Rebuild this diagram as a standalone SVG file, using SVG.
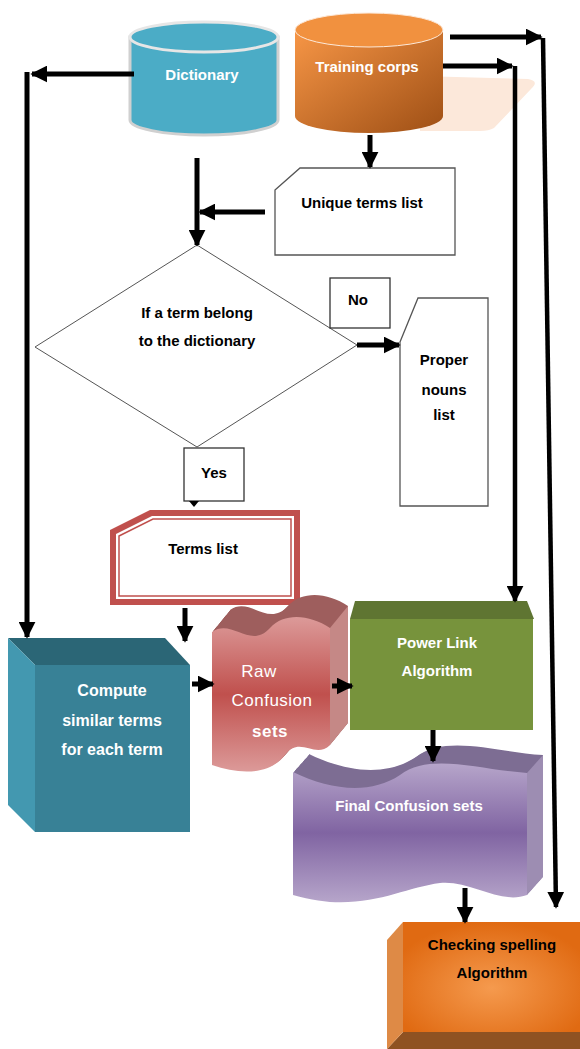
<svg xmlns="http://www.w3.org/2000/svg" xmlns:xlink="http://www.w3.org/1999/xlink" width="580" height="1049" viewBox="0 0 580 1049">
<style>
.t{font-family:"Liberation Sans",Arial,sans-serif;font-weight:bold;font-size:15px;text-anchor:middle;fill:#000}
.w{fill:#fff}
.c{fill:none;stroke:#000;stroke-width:5}
.thin{fill:#fff;stroke:#555;stroke-width:1.3}
</style>
<defs>
<marker id="ah" viewBox="0 0 10 10" refX="9" refY="5" markerWidth="17" markerHeight="17" markerUnits="userSpaceOnUse" orient="auto">
<path d="M0,0 L10,5 L0,10 z" fill="#000"/>
</marker>
<linearGradient id="gTrain" x1="0" y1="0" x2="1" y2="1">
<stop offset="0" stop-color="#f79646"/><stop offset="1" stop-color="#9e4f15"/>
</linearGradient>
<linearGradient id="gRaw" x1="0" y1="0" x2="0" y2="1">
<stop offset="0" stop-color="#dc9a99"/><stop offset="0.5" stop-color="#c0504d"/><stop offset="1" stop-color="#dc9a99"/>
</linearGradient>
<linearGradient id="gFin" x1="0" y1="0" x2="0" y2="1">
<stop offset="0" stop-color="#b6a5ca"/><stop offset="0.5" stop-color="#8064a2"/><stop offset="1" stop-color="#b6a5ca"/>
</linearGradient>
<radialGradient id="gChk" cx="0.5" cy="0.6" r="0.6">
<stop offset="0" stop-color="#f59a4e"/><stop offset="1" stop-color="#e06a12"/>
</radialGradient>
<path id="rawF" d="M212,632 C232,618 250,650 270,628 C285,612 310,615 330,628 L330,745 C315,760 300,735 285,755 C270,775 240,775 212,765 Z"/>
<path id="finF" d="M293,772 C330,790 370,795 400,775 C430,752 480,770 527,773 L527,895 C500,905 470,880 440,883 C400,888 360,915 293,895 Z"/>
<g id="rawS">
<use xlink:href="#rawF" x="1" y="-1.2"/><use xlink:href="#rawF" x="2" y="-2.4"/><use xlink:href="#rawF" x="3" y="-3.7"/>
<use xlink:href="#rawF" x="4" y="-4.9"/><use xlink:href="#rawF" x="5" y="-6.1"/><use xlink:href="#rawF" x="6" y="-7.3"/>
<use xlink:href="#rawF" x="7" y="-8.6"/><use xlink:href="#rawF" x="8" y="-9.8"/><use xlink:href="#rawF" x="9" y="-11"/>
<use xlink:href="#rawF" x="10" y="-12.2"/><use xlink:href="#rawF" x="11" y="-13.4"/><use xlink:href="#rawF" x="12" y="-14.7"/>
<use xlink:href="#rawF" x="13" y="-15.9"/><use xlink:href="#rawF" x="14" y="-17.1"/><use xlink:href="#rawF" x="15" y="-18.3"/>
<use xlink:href="#rawF" x="16" y="-19.6"/><use xlink:href="#rawF" x="17" y="-20.8"/><use xlink:href="#rawF" x="18" y="-22"/>
</g>
<g id="finS">
<use xlink:href="#finF" x="1" y="-1.1"/><use xlink:href="#finF" x="2" y="-2.3"/><use xlink:href="#finF" x="3" y="-3.4"/>
<use xlink:href="#finF" x="4" y="-4.5"/><use xlink:href="#finF" x="5" y="-5.6"/><use xlink:href="#finF" x="6" y="-6.8"/>
<use xlink:href="#finF" x="7" y="-7.9"/><use xlink:href="#finF" x="8" y="-9"/><use xlink:href="#finF" x="9" y="-10.1"/>
<use xlink:href="#finF" x="10" y="-11.3"/><use xlink:href="#finF" x="11" y="-12.4"/><use xlink:href="#finF" x="12" y="-13.5"/>
<use xlink:href="#finF" x="13" y="-14.6"/><use xlink:href="#finF" x="14" y="-15.8"/><use xlink:href="#finF" x="15" y="-16.9"/>
<use xlink:href="#finF" x="16" y="-18"/>
</g>
</defs>
<rect width="580" height="1049" fill="#fff"/>

<g id="dictionary">
<path d="M130,37 L130,120 A74,15 0 0 0 278,120 L278,37 Z" fill="#4bacc6" stroke="#d0d0d0" stroke-width="3"/>
<ellipse cx="204" cy="37" rx="74" ry="15" fill="#4bacc6" stroke="#e6e6e6" stroke-width="3"/>
<text class="t w" x="202" y="80">Dictionary</text>
</g>

<g id="training">
<path d="M420,76 L528,79 Q540,81 531,89 L494,128 Q489,131 480,131 L420,131 Z" fill="#fce8da"/>
<path d="M295,30 L295,116 A74,17 0 0 0 443,116 L443,30 Z" fill="url(#gTrain)"/>
<ellipse cx="369" cy="30" rx="74" ry="17" fill="#f1913f" stroke="#fde9d9" stroke-width="1"/>
<text class="t w" x="367" y="72">Training corps</text>
</g>

<g id="unique">
<path d="M275,190 L300,168 L455,168 L455,255 L275,255 Z" class="thin"/>
<text class="t" x="362" y="208">Unique terms list</text>
</g>

<g id="decision">
<path d="M197,245 L357,345 L197,447 L35,347 Z" fill="#fff" stroke="#555" stroke-width="1"/>
<text class="t" x="197" y="318">If a term belong</text>
<text class="t" x="197" y="346">to the dictionary</text>
</g>

<g id="no">
<rect x="330" y="278" width="60" height="50" fill="#fff" stroke="#333" stroke-width="1.3"/>
<text class="t" x="358" y="305">No</text>
</g>

<g id="proper">
<path d="M400,342 L418,298 L488,298 L488,506 L400,506 Z" class="thin"/>
<text class="t" x="444" y="365">Proper</text>
<text class="t" x="444" y="395">nouns</text>
<text class="t" x="444" y="420">list</text>
</g>

<g id="yes">
<rect x="184" y="448" width="60" height="53" fill="#fff" stroke="#333" stroke-width="1.3"/>
<text class="t" x="214" y="478">Yes</text>
</g>

<g id="terms">
<path d="M110,530 L150,510 L300,510 L300,605 L110,605 Z" fill="#c0504d"/>
<path d="M116,534 L152,516 L294,516 L294,599 L116,599 Z" fill="#fff"/>
<path d="M119,536 L153,519 L291,519 L291,596 L119,596 Z" fill="#fff" stroke="#c0504d" stroke-width="1.5"/>
<text class="t" x="203" y="554">Terms list</text>
</g>

<g id="compute">
<path d="M8,638 L165,638 L190,665 L35,665 Z" fill="#2b6676"/>
<path d="M8,638 L35,665 L35,832 L8,805 Z" fill="#4398b0"/>
<rect x="35" y="665" width="155" height="167" fill="#388196"/>
<text class="t w" style="font-size:16px" x="112" y="696">Compute</text>
<text class="t w" style="font-size:16px" x="112" y="726">similar terms</text>
<text class="t w" style="font-size:16px" x="112" y="755">for each term</text>
</g>

<g id="raw">
<use xlink:href="#rawS" fill="#9e5e5d"/>
<path d="M330,628 L348,606 L348,723 L330,745 Z" fill="#c58886"/>
<use xlink:href="#rawF" fill="url(#gRaw)"/>
<g style="font-family:'Liberation Sans',Arial,sans-serif;font-size:17px;fill:#fff;text-anchor:middle;letter-spacing:0.5px">
<text x="259" y="677">Raw</text>
<text x="272" y="706">Confusion</text>
<text x="270" y="737" font-weight="bold">sets</text>
</g>
</g>

<g id="power">
<path d="M355,601 L527,601 L534,619 L350,619 Z" fill="#5f7532"/>
<rect x="350" y="619" width="183" height="111" fill="#77933c"/>
<text class="t w" x="437" y="648">Power Link</text>
<text class="t w" x="437" y="676">Algorithm</text>
</g>

<g id="final">
<use xlink:href="#finS" fill="#7d6d93"/>
<path d="M527,773 L543,755 L543,877 L527,895 Z" fill="#9d8db2"/>
<use xlink:href="#finF" fill="url(#gFin)"/>
<text class="t w" x="409" y="811">Final Confusion sets</text>
</g>

<g id="checking">
<path d="M403,1032 L580,1032 L580,1049 L387,1049 Z" fill="#8f5222"/>
<path d="M403,922 L403,1032 L387,1049 L387,940 Z" fill="#de8a46"/>
<rect x="403" y="922" width="177" height="110" fill="url(#gChk)"/>
<text class="t" x="492" y="950">Checking spelling</text>
<text class="t" x="492" y="978">Algorithm</text>
</g>

<g id="connectors">
<path class="c" d="M134,74 L32,74" marker-end="url(#ah)"/>
<path class="c" d="M27,72 L27,637" marker-end="url(#ah)"/>
<path class="c" d="M197,158 L197,245" marker-end="url(#ah)"/>
<path class="c" d="M265,212 L200,212" marker-end="url(#ah)"/>
<path class="c" d="M370,135 L370,167" marker-end="url(#ah)"/>
<path class="c" d="M450,37 L541,37" marker-end="url(#ah)"/>
<path class="c" style="stroke-width:4.5" d="M543,38 L556,907" marker-end="url(#ah)"/>
<path class="c" d="M443,66 L512,66" marker-end="url(#ah)"/>
<path class="c" style="stroke-width:4.5" d="M515,66 L515,601" marker-end="url(#ah)"/>
<path class="c" d="M357,345 L399,345" marker-end="url(#ah)"/>
<path d="M189,501 L199,501 L194,507 Z" fill="#000"/>
<path class="c" d="M185,608 L185,641" marker-end="url(#ah)"/>
<path class="c" d="M192,684 L213,684" marker-end="url(#ah)"/>
<path class="c" d="M332,686 L352,686" marker-end="url(#ah)"/>
<path class="c" d="M433,730 L433,761" marker-end="url(#ah)"/>
<path class="c" d="M465,888 L465,922" marker-end="url(#ah)"/>
</g>
</svg>
